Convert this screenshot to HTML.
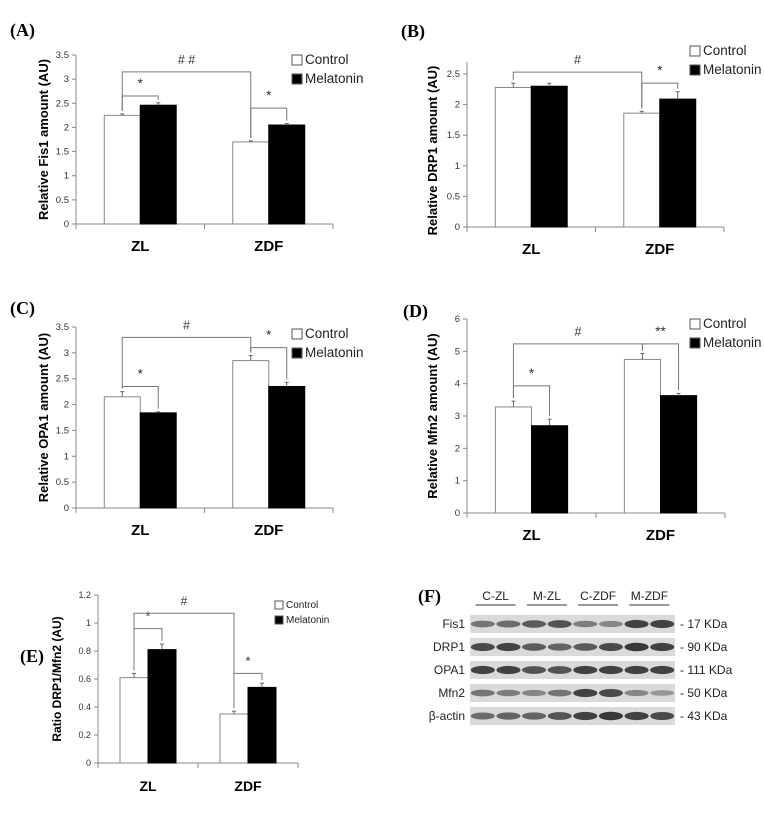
<!DOCTYPE html>
<html><head><meta charset="utf-8"><style>
body{margin:0;background:#fff;width:764px;height:812px;overflow:hidden}
svg text{font-family:"Liberation Sans",sans-serif}
svg text.serif{font-family:"Liberation Serif",serif}
</style></head><body>
<svg id="fig" width="764" height="812">
</svg>
<script>
// Panel A data
const catsA=["ZL","ZDF"];const ctrlA=[2.25,1.70];const melA=[2.46,2.05];const errCA=[0.03,0.02];const errMA=[0.05,0.03];const ticksA=[0,0.5,1,1.5,2,2.5,3,3.5];
// Panel B data
const catsB=["ZL","ZDF"];const ctrlB=[2.28,1.86];const melB=[2.30,2.09];const errCB=[0.07,0.03];const errMB=[0.05,0.12];const ticksB=[0,0.5,1,1.5,2,2.5];
// Panel C data
const catsC=["ZL","ZDF"];const ctrlC=[2.15,2.85];const melC=[1.84,2.35];const errCC=[0.10,0.10];const errMC=[0.02,0.08];const ticksC=[0,0.5,1,1.5,2,2.5,3,3.5];
// Panel D data
const catsD=["ZL","ZDF"];const ctrlD=[3.28,4.75];const melD=[2.70,3.63];const errCD=[0.18,0.18];const errMD=[0.20,0.07];const ticksD=[0,1,2,3,4,5,6];
// Panel E data
const catsE=["ZL","ZDF"];const ctrlE=[0.61,0.35];const melE=[0.81,0.54];const errCE=[0.03,0.02];const errME=[0.04,0.03];const ticksE=[0,0.2,0.4,0.6,0.8,1,1.2];
const tickLabelsE=["0","0.2","0.4","0.6","0.8","1","1.2"];

const NS="http://www.w3.org/2000/svg";
const svg=document.getElementById('fig');
function mk(tag,attrs,parent,txt){const e=document.createElementNS(NS,tag);for(const k in attrs)e.setAttribute(k,attrs[k]);if(txt!==undefined)e.textContent=txt;(parent||svg).appendChild(e);return e;}

function chart(p){
  const g=mk('g',{});
  
  
  const ymax=p.ticks[p.ticks.length-1];
  const Y=v=>p.y0-(v/ymax)*(p.y0-p.yt);
  const slot=(p.x1-p.ax)/p.cats.length;
  const bw=slot*p.bf;
  const cx=i=>p.ax+slot*(i+0.5);
  const ya=mk('line',{x1:p.ax,y1:p.yt-(p.ext||0),x2:p.ax,y2:p.y0,stroke:'#888','stroke-width':1},g);
  
  const xa=mk('line',{x1:p.ax,y1:p.y0,x2:p.x1,y2:p.y0,stroke:'#888','stroke-width':1},g);
  
  for(let i=0;i<=p.cats.length;i++){mk('line',{x1:p.ax+slot*i,y1:p.y0,x2:p.ax+slot*i,y2:p.y0+5,stroke:'#888'},g);}
  p.ticks.forEach((t,i)=>{
    mk('line',{x1:p.ax-4,y1:Y(t),x2:p.ax,y2:Y(t),stroke:'#888'},g);
    const tl=mk('text',{x:p.ax-7,y:Y(t)+3,'font-size':p.tf,'text-anchor':'end',fill:'#333'},g,p.tl?p.tl[i]:String(t));
    
  });
  p.cats.forEach((c,i)=>{
    const cl=mk('text',{x:cx(i),y:p.y0+p.cy,'font-size':p.cf,'font-weight':'bold','text-anchor':'middle'},g,c);
    
    [[p.ctrl,p.ec,'#fff','control'],[p.mel,p.em,'#000','melatonin']].forEach((s,k)=>{
      const x=cx(i)-bw+k*bw;
      const b=mk('rect',{x:x,y:Y(s[0][i]),width:bw,height:p.y0-Y(s[0][i]),fill:s[2],stroke:k?'#000':'#888','stroke-width':1},g);
      
      const ex=x+bw/2, top=Y(s[0][i]+s[1][i]);
      mk('line',{x1:ex,y1:Y(s[0][i]),x2:ex,y2:top,stroke:'#666'},g);
      mk('line',{x1:ex-2,y1:top,x2:ex+2,y2:top,stroke:'#666'},g);
    });
  });
  p.br.forEach(b=>{
    const xa_=cx(b[0])-bw/2+b[1]*bw, xb=cx(b[2])-bw/2+b[3]*bw;
    const arr=[p.ctrl,p.mel];
    const ya_=Y(arr[b[1]][b[0]]+[p.ec,p.em][b[1]][b[0]])-3, yb=Y(arr[b[3]][b[2]]+[p.ec,p.em][b[3]][b[2]])-3;
    const yy=Y(b[4]);
    const pl=mk('polyline',{points:`${xa_},${ya_} ${xa_},${yy} ${xb},${yy} ${xb},${yb}`,fill:'none',stroke:'#777','stroke-width':1},g);
    
    const st=mk('text',{x:(xa_+xb)/2,y:yy-8,'font-size':b[5][0]=='#'?p.tf+3:p.tf+4,'text-anchor':'middle',fill:'#333'},g,b[5]);
    
  });
  const yt=mk('text',{x:0,y:0,'font-size':p.yf,'font-weight':'bold','text-anchor':'middle',transform:`translate(${p.ytx},${(p.y0+p.yt)/2}) rotate(-90)`},g,p.ytitle);
  
  [['Control','#fff'],['Melatonin','#000']].forEach((l,k)=>{
    const ly=p.ly+k*p.lg;
    mk('rect',{x:p.lx,y:ly-p.ls+1,width:p.ls,height:p.ls,fill:l[1],stroke:'#555','stroke-width':1},g);
    const lt=mk('text',{x:p.lx+p.ls+3,y:ly,'font-size':p.lf,fill:'#222'},g,l[0]);
    
  });
  const pl=mk('text',{x:p.px,y:p.py,'font-size':18,'font-weight':'bold','class':'serif'},g,p.plabel);
  
}

chart({name:'chart-a',cats:catsA,ctrl:ctrlA,mel:melA,ec:errCA,em:errMA,ticks:ticksA,ax:76,x1:333,y0:224,yt:55,bf:0.28,tf:9.5,cf:15,cy:27,yf:13,ytx:48,ytitle:'Relative Fis1 amount (AU)',
  br:[[0,0,0,1,2.65,'*'],[1,0,1,1,2.4,'*'],[0,0,1,0,3.15,'# #']],lx:292,ly:64,lg:19,ls:10,lf:13.5,plabel:'(A)',px:10,py:36});
chart({name:'chart-b',cats:catsB,ctrl:ctrlB,mel:melB,ec:errCB,em:errMB,ticks:ticksB,ax:467,x1:724,y0:227,yt:74,ext:12,bf:0.28,tf:9.5,cf:15,cy:27,yf:13,ytx:437,ytitle:'Relative DRP1 amount (AU)',
  br:[[1,0,1,1,2.35,'*'],[0,0,1,0,2.53,'#']],lx:690,ly:55,lg:19,ls:10,lf:13.5,plabel:'(B)',px:401,py:37});
chart({name:'chart-c',cats:catsC,ctrl:ctrlC,mel:melC,ec:errCC,em:errMC,ticks:ticksC,ax:76,x1:333,y0:508,yt:327,bf:0.28,tf:9.5,cf:15,cy:27,yf:13,ytx:48,ytitle:'Relative OPA1 amount (AU)',
  br:[[0,0,0,1,2.35,'*'],[1,0,1,1,3.1,'*'],[0,0,1,0,3.3,'#']],lx:292,ly:338,lg:19,ls:10,lf:13.5,plabel:'(C)',px:10,py:314});
chart({name:'chart-d',cats:catsD,ctrl:ctrlD,mel:melD,ec:errCD,em:errMD,ticks:ticksD,ax:467,x1:725,y0:513,yt:319,bf:0.28,tf:9.5,cf:15,cy:27,yf:13,ytx:437,ytitle:'Relative Mfn2 amount (AU)',
  br:[[0,0,0,1,3.93,'*'],[1,0,1,1,5.23,'**'],[0,0,1,0,5.23,'#']],lx:690,ly:328,lg:19,ls:10,lf:13.5,plabel:'(D)',px:403,py:317});
chart({name:'chart-e',cats:catsE,ctrl:ctrlE,mel:melE,ec:errCE,em:errME,ticks:ticksE,tl:tickLabelsE,ax:98,x1:298,y0:763,yt:595,bf:0.28,tf:9,cf:14,cy:28,yf:12,ytx:61,ytitle:'Ratio DRP1/Mfn2  (AU)',
  br:[[0,0,0,1,0.96,'*'],[1,0,1,1,0.64,'*'],[0,0,1,0,1.07,'#']],lx:275,ly:608,lg:15,ls:8,lf:10,plabel:'(E)',px:20,py:662});

const lanes=["C-ZL","M-ZL","C-ZDF","M-ZDF"];
const proteins=["Fis1","DRP1","OPA1","Mfn2","β-actin"];
const weights=["- 17 KDa","- 90 KDa","- 111 KDa","- 50 KDa","- 43 KDa"];
const intens=[[0.55,0.6,0.7,0.75,0.5,0.45,0.85,0.85],[0.8,0.85,0.7,0.65,0.7,0.8,0.9,0.85],[0.85,0.85,0.75,0.75,0.85,0.85,0.85,0.85],[0.55,0.5,0.45,0.55,0.85,0.8,0.45,0.35],[0.6,0.65,0.65,0.75,0.85,0.9,0.85,0.8]];
(function(){
  const g=mk('g',{});
  
  
  const pl=mk('text',{x:418,y:602,'font-size':18,'font-weight':'bold','class':'serif'},g,'(F)');
  
  const x0=470,x1=675,w=(x1-x0)/8;
  lanes.forEach((l,i)=>{
    const cx=x0+w*(2*i+1);
    const t=mk('text',{x:cx,y:600,'font-size':12,'text-anchor':'middle',fill:'#222'},g,l);
    
    mk('line',{x1:cx-20,y1:605,x2:cx+20,y2:605,stroke:'#333'},g);
  });
  proteins.forEach((p,r)=>{
    const y=615+r*23;
    const bg=mk('rect',{x:x0,y:y,width:x1-x0,height:18,fill:'#dadada'},g);
    
    intens[r].forEach((v,k)=>{
      const c=Math.round(210-v*170);
      mk('ellipse',{cx:x0+w*(k+0.5),cy:y+9,rx:w*0.47,ry:2+v*2.5,fill:`rgb(${c},${c},${c})`},g);
    });
    const lt=mk('text',{x:465,y:y+13,'font-size':12,'text-anchor':'end',fill:'#222'},g,p);
    
    const wt=mk('text',{x:680,y:y+13,'font-size':12,fill:'#222'},g,weights[r]);
    
  });
})();
</script>
</body></html>
